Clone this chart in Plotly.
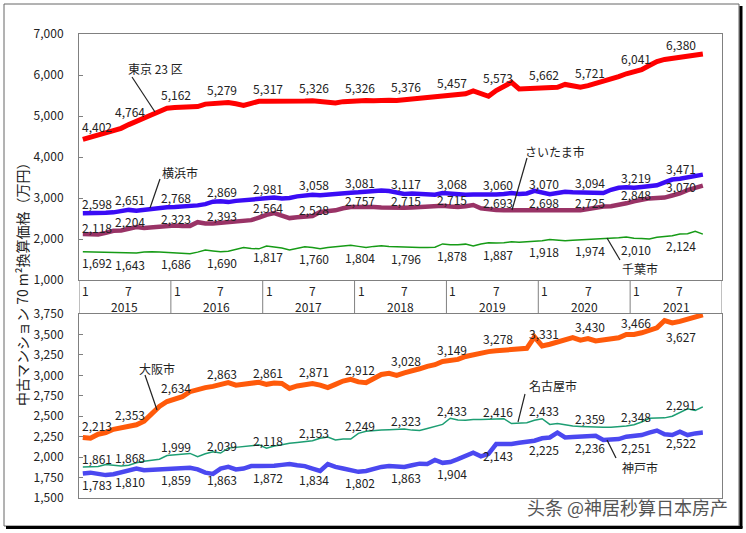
import plotly.graph_objects as go

# months Jan 2015 .. Oct 2021 (index 0..81)
months = list(range(82))
years = ["2015", "2016", "2017", "2018", "2019", "2020", "2021"]
label_idx = list(range(0, 84, 6))

tokyo = [4430, 4480, 4530, 4570, 4620, 4700, 4790, 4880, 4950, 5030, 5110, 5190,
         5210, 5215, 5220, 5230, 5290, 5310, 5320, 5330, 5300, 5260, 5310, 5360,
         5360, 5355, 5360, 5365, 5360, 5365, 5370, 5350, 5330, 5320, 5350, 5365,
         5370, 5380, 5375, 5390, 5385, 5380, 5400, 5395, 5420, 5440, 5460, 5480,
         5490, 5510, 5540, 5610, 5560, 5480, 5620, 5720, 5820, 5660, 5670, 5680,
         5690, 5690, 5700, 5770, 5730, 5700, 5740, 5790, 5840, 5900, 5960, 6030,
         6090, 6130, 6230, 6330, 6380, 6400, 6430, 6450, 6480, 6510]
yokohama = [2630, 2625, 2630, 2640, 2650, 2680, 2710, 2690, 2710, 2740, 2770, 2775,
            2780, 2790, 2800, 2820, 2850, 2910, 2920, 2900, 2930, 2950, 2960, 2980,
            3000, 3010, 2990, 3000, 3040, 3070, 3080, 3070, 3090, 3110, 3120, 3130,
            3140, 3160, 3180, 3185, 3170, 3130, 3100, 3110, 3100, 3090, 3080, 3120,
            3100, 3090, 3080, 3085, 3080, 3080, 3085, 3095, 3120, 3100, 3110, 3175,
            3120, 3090, 3120, 3150, 3140, 3140, 3135, 3130, 3120, 3200, 3250, 3265,
            3250, 3270, 3290, 3310, 3380, 3450, 3470, 3500, 3520, 3570]
saitama = [2120, 2110, 2110, 2150, 2200, 2210, 2260, 2290, 2270, 2290, 2310, 2330,
           2330, 2320, 2320, 2410, 2380, 2380, 2400, 2420, 2440, 2450, 2460, 2520,
           2590, 2630, 2580, 2510, 2530, 2550, 2560, 2660, 2680, 2700, 2750, 2780,
           2780, 2790, 2780, 2770, 2760, 2750, 2760, 2770, 2780, 2770, 2790, 2810,
           2790, 2780, 2800, 2830, 2750, 2720, 2710, 2700, 2700, 2700, 2710, 2710,
           2710, 2705, 2700, 2710, 2715, 2700, 2730, 2770, 2790, 2800, 2830, 2870,
           2920, 2960, 2990, 3000, 3010, 3060, 3110, 3190, 3240, 3300]
chiba = [1690, 1685, 1680, 1670, 1675, 1660, 1650, 1660, 1680, 1690, 1680, 1670,
         1660, 1650, 1640, 1680, 1730, 1710, 1690, 1700, 1740, 1795, 1770, 1760,
         1830, 1810, 1780, 1730, 1770, 1810, 1790, 1760, 1790, 1810, 1830, 1845,
         1820, 1795, 1820, 1835, 1820, 1810, 1800, 1800, 1795, 1790, 1800, 1880,
         1860, 1860, 1875, 1830, 1880, 1910, 1900, 1910, 1930, 1920, 1930, 1940,
         1960, 1990, 1970, 1955, 1970, 1980, 1990, 1985, 2000, 2010, 2030, 2050,
         2020, 2010, 2000, 2040, 2060, 2080, 2120, 2130, 2190, 2120]
osaka = [2240, 2230, 2280, 2300, 2340, 2360, 2380, 2395, 2440, 2530, 2620, 2680,
         2710, 2740, 2800, 2830, 2850, 2865, 2880, 2910, 2880, 2890, 2910, 2915,
         2890, 2905, 2900, 2840, 2870, 2880, 2900, 2880, 2850, 2890, 2930, 2950,
         2920, 2910, 2960, 3010, 3025, 3000, 3030, 3050, 3080, 3110, 3130, 3170,
         3175, 3195, 3230, 3250, 3280, 3290, 3300, 3310, 3320, 3325, 3330, 3470,
         3360, 3380, 3410, 3440, 3460, 3430, 3450, 3420, 3430, 3450, 3460, 3500,
         3500, 3520, 3550, 3580, 3670, 3640, 3660, 3690, 3710, 3740]
nagoya = [1880, 1880, 1885, 1910, 1900, 1890, 1900, 1930, 1950, 1960, 1975, 2020,
          2030, 2040, 2045, 2005, 2040, 2065, 2050, 2110, 2120, 2135, 2140, 2150,
          2110, 2135, 2150, 2170, 2180, 2190, 2200, 2230, 2245, 2210, 2220, 2220,
          2290, 2315, 2325, 2330, 2335, 2340, 2345, 2330, 2325, 2350, 2375, 2400,
          2475, 2455, 2450, 2460, 2460, 2465, 2465, 2470, 2410, 2415, 2420, 2450,
          2470, 2400, 2410, 2395, 2380, 2375, 2370, 2365, 2365, 2365, 2370, 2380,
          2395, 2430, 2475, 2480, 2480, 2500, 2550, 2590, 2570, 2615]
kobe = [1800, 1810, 1795, 1780, 1790, 1810, 1835, 1860, 1840, 1845, 1850, 1860,
        1860, 1865, 1870, 1850, 1810, 1795, 1860, 1880, 1850, 1860, 1890, 1890,
        1890, 1895, 1905, 1915, 1900, 1890, 1860, 1830, 1915, 1880, 1860, 1840,
        1820, 1830, 1860, 1880, 1890, 1880, 1880, 1900, 1920, 1915, 1965, 1930,
        1940, 1975, 2010, 2055, 2010, 2040, 2160, 2155, 2160, 2175, 2190, 2200,
        2230, 2240, 2300, 2240, 2245, 2250, 2255, 2260, 2210, 2215, 2220, 2250,
        2255, 2270, 2300, 2325, 2280, 2270, 2310, 2270, 2290, 2300]

tokyo_lbl = ["4,402", "4,764", "5,162", "5,279", "5,317", "5,326", "5,326", "5,376", "5,457", "5,573", "5,662", "5,721", "6,041", "6,380"]
yokohama_lbl = ["2,598", "2,651", "2,768", "2,869", "2,981", "3,058", "3,081", "3,117", "3,068", "3,060", "3,070", "3,094", "3,219", "3,471"]
saitama_lbl = ["2,118", "2,204", "2,323", "2,393", "2,564", "2,528", "2,757", "2,715", "2,715", "2,693", "2,698", "2,725", "2,848", "3,070"]
chiba_lbl = ["1,692", "1,643", "1,686", "1,690", "1,817", "1,760", "1,804", "1,796", "1,878", "1,887", "1,918", "1,974", "2,010", "2,124"]
osaka_lbl = ["2,213", "2,353", "2,634", "2,863", "2,861", "2,871", "2,912", "3,028", "3,149", "3,278", "3,331", "3,430", "3,466", "3,627"]
nagoya_lbl = ["1,861", "1,868", "1,999", "2,039", "2,118", "2,153", "2,249", "2,323", "2,433", "2,416", "2,433", "2,359", "2,348", "2,291"]
kobe_lbl = ["1,783", "1,810", "1,859", "1,863", "1,872", "1,834", "1,802", "1,863", "1,904", "2,143", "2,225", "2,236", "2,251", "2,522"]

FONT = "Noto Sans CJK JP"
AX = "#808080"

# plot area in pixels: x 79..722, y 34..498
def px(x):
    return (x - 79) / 643.0

def py(y):
    return (498 - y) / 464.0

series = [
    # name, values, labels, axis, color, width, label shift
    ("東京 23 区", tokyo, tokyo_lbl, "y", "#ff0000", 5, 13),
    ("横浜市", yokohama, yokohama_lbl, "y", "#3a0cf5", 4.5, 10),
    ("さいたま市", saitama, saitama_lbl, "y", "#993366", 4.5, 7),
    ("千葉市", chiba, chiba_lbl, "y", "#169b16", 1.5, -11),
    ("大阪市", osaka, osaka_lbl, "y2", "#ff5a0a", 5, 12),
    ("名古屋市", nagoya, nagoya_lbl, "y2", "#1d9e73", 1.5, 8),
    ("神戸市", kobe, kobe_lbl, "y2", "#4b48f0", 4.5, -11),
]

fig = go.Figure()
ann = []
for name, vals, lbls, yax, color, width, shift in series:
    xax = "x" if yax == "y" else "x2"
    fig.add_trace(go.Scatter(x=months, y=vals, mode="lines", name=name,
                             line=dict(color=color, width=width),
                             xaxis=xax, yaxis=yax, hoverinfo="skip", showlegend=False))
    for i, t in zip(label_idx, lbls):
        s = shift
        if name == "大阪市" and i == label_idx[-1]:
            s = -15
        first = i == 0
        ann.append(dict(x=-0.5 if first else i + 0.2, y=vals[i], xref=xax, yref=yax,
                        text=t, showarrow=False, yshift=s, xshift=1 if first else 0,
                        xanchor="left" if first else "center", yanchor="middle",
                        font=dict(family=FONT, size=12, color="#222")))

# series name labels with leader lines (pixel positions)
names = [
    ("東京 23 区", 155, 68, (132, 77, 155, 112)),
    ("横浜市", 180, 173, (160, 179, 150, 208)),
    ("さいたま市", 555, 151, (527, 158, 512, 210)),
    ("千葉市", 640, 268, (607, 238, 620, 260)),
    ("大阪市", 157, 368, (145, 375, 157, 410)),
    ("名古屋市", 553, 385, (525, 394, 518, 422)),
    ("神戸市", 640, 467, (607, 440, 616, 458)),
]
shapes = []
for t, tx, ty, (x0, y0, x1, y1) in names:
    ann.append(dict(x=px(tx), y=py(ty), xref="paper", yref="paper", text=t,
                    xanchor="center", yanchor="middle", showarrow=False,
                    font=dict(family=FONT, size=12, color="#222")))
    shapes.append(dict(type="line", xref="paper", yref="paper", x0=px(x0), y0=py(y0),
                       x1=px(x1), y1=py(y1), line=dict(color="#222", width=1.2)))

# month/year band between the two panels
band_lo, band_hi = py(314), py(280)
for k in range(len(years) + 1):
    shapes.append(dict(type="line", xref="x", yref="paper", x0=12 * k - 0.5, x1=12 * k - 0.5,
                       y0=band_lo, y1=band_hi, line=dict(color=AX, width=1)))
for k, yr in enumerate(years):
    ann.append(dict(x=12 * k - 0.5, y=py(290), xref="x", yref="paper", text="1", showarrow=False,
                    xanchor="left", yanchor="middle", xshift=1,
                    font=dict(family=FONT, size=12, color="#222")))
    ann.append(dict(x=12 * k + 6, y=py(290), xref="x", yref="paper", text="7", showarrow=False,
                    xanchor="center", yanchor="middle", font=dict(family=FONT, size=12, color="#222")))
    ann.append(dict(x=12 * k + 5.5, y=py(306), xref="x", yref="paper", text=yr, showarrow=False,
                    xanchor="center", yanchor="middle", font=dict(family=FONT, size=12, color="#222")))

# y title
ann.append(dict(x=px(22), y=py(281), xref="paper", yref="paper", xanchor="center", yanchor="middle",
                text="中古マンション 70 m²換算価格（万円）", textangle=-90, showarrow=False,
                font=dict(family=FONT, size=14, color="#222")))
# watermark
ann.append(dict(x=px(730), y=py(507), xref="paper", yref="paper", xanchor="right", yanchor="middle",
                text="头条 @神居秒算日本房产", showarrow=False,
                font=dict(family="Noto Sans CJK SC", size=18, color="#555")))

# outer frame with shadow
shapes.append(dict(type="rect", xref="paper", yref="paper", x0=px(4), y0=py(4), x1=px(739), y1=py(526),
                   line=dict(color="#666", width=1)))
shapes.append(dict(type="line", xref="paper", yref="paper", x0=px(741), y0=py(6), x1=px(741), y1=py(528),
                   line=dict(color="#000", width=3)))
shapes.append(dict(type="line", xref="paper", yref="paper", x0=px(6), y0=py(527.5), x1=px(742.5), y1=py(527.5),
                   line=dict(color="#000", width=3)))

xcommon = dict(range=[-0.5, 83.5], showticklabels=False, ticks="", showgrid=False, zeroline=False,
               showline=True, mirror=True, linecolor=AX, linewidth=1, domain=[0, 1], automargin=False)
ycommon = dict(showgrid=False, zeroline=False, showline=True, mirror=True, linecolor=AX, linewidth=1,
               ticks="inside", ticklen=4, tickcolor=AX, tickformat=",", ticklabelstandoff=12,
               automargin=False, tickfont=dict(family=FONT, size=12, color="#222"))

fig.update_layout(
    width=746, height=533,
    margin=dict(l=79, r=24, t=34, b=35, autoexpand=False),
    paper_bgcolor="white", plot_bgcolor="white",
    xaxis=dict(anchor="y", **xcommon),
    xaxis2=dict(anchor="y2", **xcommon),
    yaxis=dict(anchor="x", domain=[py(280), 1], range=[1000, 7000], dtick=1000, **ycommon),
    yaxis2=dict(anchor="x2", domain=[0, py(314)], range=[1500, 3750], dtick=250, **ycommon),
    annotations=ann,
    shapes=shapes,
)

# the page's default body margin would push the 746x533 figure off the window
fig.write_html("out.html", config={"displayModeBar": False},
               post_script="document.body.style.margin='0';")
